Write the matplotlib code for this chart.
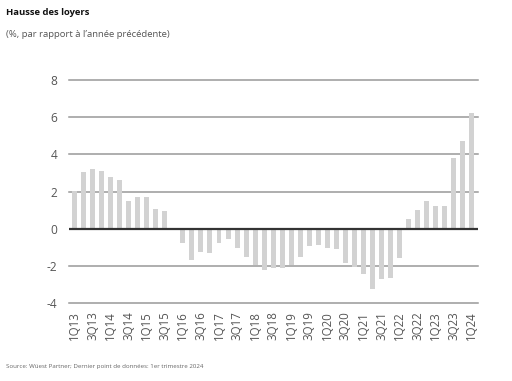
import numpy as np
import matplotlib
matplotlib.use("Agg")
import matplotlib.pyplot as plt

plt.rcParams["font.family"] = ["Open Sans", "DejaVu Sans"]

# Quarterly rent growth, % year-on-year, 1Q13 .. 1Q24
quarters = [f"{q}Q{y:02d}" for y in range(13, 25) for q in range(1, 5)][:45]
values = [
    2.04, 3.05, 3.22, 3.10,   # 2013
    2.79, 2.61, 1.51, 1.73,   # 2014
    1.69, 1.08, 0.94, 0.0,    # 2015
    -0.79, -1.68, -1.28, -1.32,  # 2016
    -0.76, -0.54, -1.06, -1.55,  # 2017
    -1.96, -2.22, -2.10, -2.10,  # 2018
    -1.93, -1.53, -0.95, -0.86,  # 2019
    -1.04, -1.10, -1.84, -2.05,  # 2020
    -2.43, -3.24, -2.72, -2.63,  # 2021
    -1.57, 0.54, 1.03, 1.50,     # 2022
    1.21, 1.24, 3.82, 4.70,      # 2023
    6.23,                        # 2024
]
yticks = [-4, -2, 0, 2, 4, 6, 8]

fig = plt.figure(figsize=(5.12, 3.81), dpi=100)
ax = fig.add_axes([0.135, 0.2047, 0.798, 0.5853])

x = np.arange(len(values))
ax.bar(x, values, width=0.55, color="#d2d2d2", zorder=2)

for t in yticks:
    if t == 0:
        ax.axhline(0, color="#333333", lw=1.6, zorder=3)
    else:
        ax.axhline(t, color="#999999", lw=1.1, zorder=1, clip_on=False)

ax.set_xlim(-0.6, len(values) - 0.35)
ax.set_ylim(-4, 8)
ax.set_yticks(yticks)
ax.set_yticklabels([str(t) for t in yticks], fontsize=8.6, color="#555555")
ax.set_xticks(x[::2])
ax.set_xticklabels(quarters[::2], rotation=90, fontsize=8.3, color="#555555")
ax.tick_params(axis="both", length=0)
ax.tick_params(axis="y", pad=8.5)
ax.tick_params(axis="x", pad=6)
for s in ax.spines.values():
    s.set_visible(False)

fig.text(0.012, 0.98, "Hausse des loyers", fontsize=6.8, fontweight="bold",
         color="#111111", va="top")
fig.text(0.012, 0.92, "(%, par rapport à l’année précédente)", fontsize=6.8,
         color="#555555", va="top")
fig.text(0.012, 0.037, "Source: Wüest Partner; Dernier point de données: 1er trimestre 2024",
         fontsize=4.4, color="#666666", va="center")

fig.savefig("out.png", dpi=100)
